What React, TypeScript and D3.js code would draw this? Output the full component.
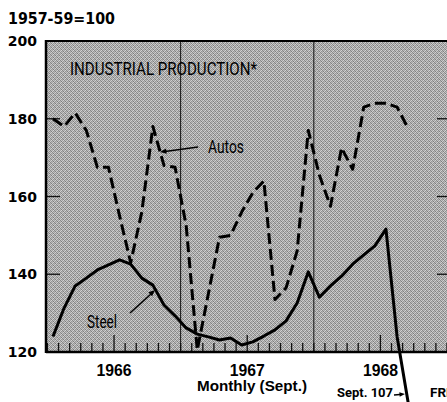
import React from "react";
import * as d3 from "d3";

// Monthly index of industrial production, 1957-59 = 100
const months = [
  "1966-01", "1966-02", "1966-03", "1966-04", "1966-05", "1966-06",
  "1966-07", "1966-08", "1966-09", "1966-10", "1966-11", "1966-12",
  "1967-01", "1967-02", "1967-03", "1967-04", "1967-05", "1967-06",
  "1967-07", "1967-08", "1967-09", "1967-10", "1967-11", "1967-12",
  "1968-01", "1968-02", "1968-03", "1968-04", "1968-05", "1968-06",
  "1968-07", "1968-08", "1968-09",
];

const autos = [
  180, 178, 181.5, 177, 167.5, 167.5, 155, 143, 156, 178, 168, 167.5,
  152.5, 120.5, 135, 149.5, 150, 156, 161, 164, 133.5, 136.5, 146, 177,
  165.5, 157.5, 172.5, 167, 183, 184, 184, 183, 177.5,
];

const steel = [
  124, 131.3, 137, 139, 141.1, 142.4, 143.7, 142.6, 139, 137.2, 132.1, 129.3,
  126.2, 124.6, 123.9, 123.1, 123.6, 121.8, 122.6, 124.1, 125.7, 128, 132.6, 140.6,
  134.1, 137, 139.5, 142.6, 145, 147.3, 151.6, 124, 107,
];

const yTicks = [120, 140, 160, 180, 200];
const years = ["1966", "1967", "1968"];

// halftone screen tile for the plot background
const screenTile = [
  ["#8c8c8c", "#c4c4c4", "#a0a0a0", "#d0d0d0"],
  ["#b8b8b8", "#7c7c7c", "#cccccc", "#989898"],
  ["#a4a4a4", "#d4d4d4", "#888888", "#bcbcbc"],
  ["#cfcfcf", "#949494", "#b4b4b4", "#808080"],
];

const W = 447;
const H = 402;
const left = 46;
const right = 451;
const top = 41;
const bottom = 352;

const condensed = "'Liberation Sans Narrow', Roboto, 'Noto Sans', sans-serif";
const heavy = "'DejaVu Sans', 'Liberation Sans', sans-serif";
const bold = "'Liberation Sans', Arial, sans-serif";

export default function App() {
  // month index -> x (points sit mid-month); Jan 1 of each year falls at i - 0.5
  const x = d3.scaleLinear().domain([-0.63, 35.86]).range([left, right]);
  const y = d3.scaleLinear().domain([120, 200]).range([bottom, top]);

  const line = d3
    .line<number>()
    .x((_, i) => x(i))
    .y((d) => y(d));

  // tick marks on month boundaries, taller at mid-year
  const monthTicks = d3.range(0, 37).map((k) => ({ pos: k - 0.5, major: k % 12 === 6 }));
  const yearBreaks = [11.5, 23.5];
  const sideTicks = [140, 160, 180];

  const arrowHead = (tx: number, ty: number, fx: number, fy: number, size = 7) => {
    const a = Math.atan2(ty - fy, tx - fx);
    const p1 = [tx - size * Math.cos(a - 0.4), ty - size * Math.sin(a - 0.4)];
    const p2 = [tx - size * Math.cos(a + 0.4), ty - size * Math.sin(a + 0.4)];
    return `M${tx},${ty}L${p1[0]},${p1[1]}L${p2[0]},${p2[1]}Z`;
  };

  return (
    <svg
      width={W}
      height={H}
      style={{ position: "absolute", left: 0, top: 0, background: "#fff" }}
    >
      <defs>
        <pattern id="screen" width={4} height={4} patternUnits="userSpaceOnUse">
          {screenTile.map((row, r) =>
            row.map((c, k) => <rect key={`${r}-${k}`} x={k} y={r} width={1} height={1} fill={c} />)
          )}
        </pattern>
      </defs>
      <rect x={left} y={top} width={right - left} height={bottom - top} fill="url(#screen)" />

      {yearBreaks.map((b) => (
        <line key={b} x1={x(b)} x2={x(b)} y1={top} y2={bottom} stroke="#111" strokeWidth={1} />
      ))}

      {monthTicks.map((t) => (
        <line
          key={t.pos}
          x1={x(t.pos)}
          x2={x(t.pos)}
          y1={bottom}
          y2={bottom - (t.major ? 17 : 9)}
          stroke="#111"
          strokeWidth={1.3}
        />
      ))}

      {sideTicks.map((v) => (
        <g key={v}>
          <line x1={left} x2={left + 14} y1={y(v)} y2={y(v)} stroke="#111" strokeWidth={1.3} />
          <line x1={right - 14} x2={right} y1={y(v)} y2={y(v)} stroke="#111" strokeWidth={1.3} />
        </g>
      ))}

      <path
        d={line(autos) ?? ""}
        fill="none"
        stroke="#000"
        strokeWidth={3}
        strokeDasharray="11 5"
        strokeLinejoin="round"
      />
      <path
        d={line(steel) ?? ""}
        fill="none"
        stroke="#000"
        strokeWidth={3}
        strokeLinejoin="round"
      />

      <line x1={left} x2={left} y1={top - 1} y2={bottom + 1} stroke="#000" strokeWidth={2.5} />
      <line x1={left} x2={right} y1={top} y2={top} stroke="#000" strokeWidth={2} />
      <line x1={left} x2={right} y1={bottom} y2={bottom} stroke="#000" strokeWidth={2.5} />

      {yTicks.map((v) => (
        <text
          key={v}
          x={37}
          y={y(v) + 5}
          textAnchor="end"
          fontFamily={heavy}
          fontWeight="bold"
          fontSize={14}
          fill="#000"
        >
          {v}
        </text>
      ))}

      <text
        x={8}
        y={24}
        fontFamily={heavy}
        fontWeight="bold"
        fontSize={15}
        textLength={107}
        lengthAdjust="spacingAndGlyphs"
      >
        1957-59=100
      </text>

      {years.map((label, k) => (
        <text
          key={label}
          x={x(5.5 + 12 * k)}
          y={376}
          textAnchor="middle"
          fontFamily={bold}
          fontWeight="bold"
          fontSize={16}
          textLength={35}
          lengthAdjust="spacingAndGlyphs"
        >
          {label}
        </text>
      ))}

      <text
        x={197}
        y={391}
        fontFamily={bold}
        fontWeight="bold"
        fontSize={15.5}
        textLength={110}
        lengthAdjust="spacingAndGlyphs"
      >
        Monthly (Sept.)
      </text>

      <text
        x={70}
        y={75}
        fontFamily={condensed}
        fontSize={18}
        textLength={187}
        lengthAdjust="spacingAndGlyphs"
      >
        INDUSTRIAL PRODUCTION*
      </text>

      <text
        x={208}
        y={153}
        fontFamily={condensed}
        fontSize={18}
        textLength={36}
        lengthAdjust="spacingAndGlyphs"
      >
        Autos
      </text>
      <line x1={198} y1={147} x2={165} y2={151.5} stroke="#000" strokeWidth={1.5} />
      <path d={arrowHead(160, 152, 198, 147)} fill="#000" />

      <text
        x={87}
        y={328}
        fontFamily={condensed}
        fontSize={18}
        textLength={30}
        lengthAdjust="spacingAndGlyphs"
      >
        Steel
      </text>
      <line x1={130} y1={313} x2={151} y2={294} stroke="#000" strokeWidth={1.5} />
      <path d={arrowHead(155, 290, 130, 313)} fill="#000" />

      <text
        x={337}
        y={397}
        fontFamily={condensed}
        fontWeight="bold"
        fontSize={13}
        textLength={56}
        lengthAdjust="spacingAndGlyphs"
      >
        Sept. 107
      </text>
      <line x1={394} y1={395} x2={400} y2={394.5} stroke="#000" strokeWidth={1.5} />
      <path d={arrowHead(405, 394, 394, 395, 6)} fill="#000" />

      <text x={430} y={397} fontFamily={condensed} fontWeight="bold" fontSize={13.5}>
        FRB
      </text>
    </svg>
  );
}
